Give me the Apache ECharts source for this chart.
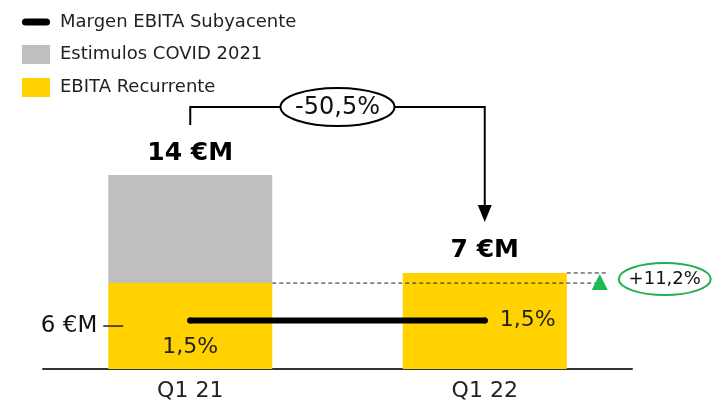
<!DOCTYPE html>
<html><head><meta charset="utf-8">
<script src="https://cdn.jsdelivr.net/npm/echarts@6/dist/echarts.min.js"></script>
<style>html,body{margin:0;padding:0;background:#fff}#c{width:712px;height:408px}</style>
</head><body><div id="c"></div>
<script>
const categories = ['Q1 21', 'Q1 22'];
const recurrente = [6.2, 6.93];
const covid = [7.8, 0];
const totals = [14, 6.93];
const totalLabels = ['14 €M', '7 €M'];
const margen = [1.5, 1.5];
const margenLabels = ['1,5%', '1,5%'];
const recurrenteTick = '6 €M';
const changeTotal = '-50,5%';
const changeRecurrente = '+11,2%';
const seriesNames = ['Margen EBITA Subyacente', 'Estimulos COVID 2021', 'EBITA Recurrente'];

const FONT = 'DejaVu Sans';
const BARW = 164;
const chart = echarts.init(document.getElementById('c'), null, {renderer: 'canvas'});
const option = {
  animation: false,
  textStyle: {fontFamily: FONT},
  legend: {
    orient: 'vertical', left: 17, top: 8, itemWidth: 28, itemHeight: 19, itemGap: 14,
    data: [
      {name: seriesNames[0], icon: 'path://M3.5,0 L24.5,0 A3.5,3.5 0 0 1 24.5,7 L3.5,7 A3.5,3.5 0 0 1 3.5,0 Z', itemStyle: {color: '#000'}},
      {name: seriesNames[1], icon: 'rect'},
      {name: seriesNames[2], icon: 'rect'}
    ],
    textStyle: {fontSize: 18, color: '#222', fontFamily: FONT, padding: [0, 0, 0, 5]}
  },
  grid: {left: 43, right: 80, top: 175, bottom: 39},
  xAxis: {
    type: 'category', data: categories,
    axisLine: {lineStyle: {color: '#333', width: 2}},
    axisTick: {show: false},
    axisLabel: {fontSize: 22, color: '#222', margin: 11, fontFamily: FONT}
  },
  yAxis: [
    {type: 'value', min: 0, max: 14, show: false, splitLine: {show: false}},
    {type: 'value', min: 0, max: 6, show: false, splitLine: {show: false}}
  ],
  series: [
    {
      name: seriesNames[2], type: 'bar', stack: 't', data: recurrente, barWidth: BARW,
      itemStyle: {color: '#FFD200'}
    },
    {
      name: seriesNames[1], type: 'bar', stack: 't', data: covid, barWidth: BARW,
      itemStyle: {color: '#BFBFBF'}
    },
    {
      name: 'totals', type: 'scatter', data: totals, symbolSize: 1,
      itemStyle: {color: 'rgba(0,0,0,0)', opacity: 1}, silent: true,
      label: {show: true, position: 'top', distance: 9, fontSize: 25, fontWeight: 'bold', color: '#000', fontFamily: FONT,
        formatter: p => totalLabels[p.dataIndex]}
    },
    {
      name: seriesNames[0], type: 'line', yAxisIndex: 1,
      symbol: 'circle', symbolSize: 6, showSymbol: true,
      itemStyle: {color: '#000'},
      lineStyle: {color: '#000', width: 6, cap: 'round'},
      label: {show: true, fontSize: 22, color: '#222', fontFamily: FONT,
        formatter: p => margenLabels[p.dataIndex]},
      data: [
        {value: margen[0], label: {position: 'bottom', distance: 13}},
        {value: margen[1], label: {position: 'right', distance: 12}}
      ]
    }
  ]
};
chart.setOption(option);

function px(i, v, axis) { return chart.convertToPixel({xAxisIndex: 0, yAxisIndex: axis || 0}, [i, v]); }
const p0 = px(0, recurrente[0] + covid[0]);
const p1 = px(1, recurrente[1] + covid[1]);
const r0 = px(0, recurrente[0]);
const r1 = px(1, recurrente[1]);
const hw = BARW / 2;
const yTop = p0[1] - 68;
const midX = (p0[0] + p1[0]) / 2;
const tipY = p1[1] - 51;
const tickY = (r0[1] + px(0, 0)[1]) / 2;
const triX = r1[0] + hw + 33;
const ellX = r1[0] + hw + 98;
const graphics = [
  {type: 'polyline', z: 100, shape: {points: [[p0[0], yTop + 18], [p0[0], yTop], [p1[0], yTop], [p1[0], tipY - 16]]}, style: {stroke: '#000', lineWidth: 2, fill: null}},
  {type: 'polygon', z: 100, shape: {points: [[p1[0] - 7, tipY - 17], [p1[0] + 7, tipY - 17], [p1[0], tipY]]}, style: {fill: '#000'}},
  {type: 'ellipse', z: 100, shape: {cx: midX, cy: yTop, rx: 57, ry: 19}, style: {fill: '#fff', stroke: '#000', lineWidth: 2}},
  {type: 'text', z: 101, x: midX, y: yTop + 1, style: {text: changeTotal, fontSize: 24, fontFamily: FONT, fill: '#111', align: 'center', verticalAlign: 'middle'}},
  {type: 'line', z: 100, shape: {x1: r0[0] - hw - 5, y1: tickY, x2: r0[0] - hw + 15, y2: tickY}, style: {stroke: '#222', lineWidth: 1.5}},
  {type: 'text', z: 100, x: r0[0] - hw - 11, y: tickY, style: {text: recurrenteTick, fontSize: 23, fontFamily: FONT, fill: '#111', align: 'right', verticalAlign: 'middle'}},
  {type: 'line', z: 100, shape: {x1: r0[0] + hw, y1: r0[1], x2: triX + 2, y2: r0[1]}, style: {stroke: '#222', lineWidth: 1, lineDash: [4, 3]}},
  {type: 'line', z: 100, shape: {x1: r1[0] + hw, y1: r1[1], x2: triX + 8, y2: r1[1]}, style: {stroke: '#222', lineWidth: 1, lineDash: [4, 3]}},
  {type: 'polygon', z: 100, shape: {points: [[triX - 8, r0[1] + 7], [triX + 8, r0[1] + 7], [triX, r1[1] + 1]]}, style: {fill: '#1DB954'}},
  {type: 'ellipse', z: 100, shape: {cx: ellX, cy: (r0[1] + r1[1]) / 2 + 1, rx: 46, ry: 16}, style: {fill: '#fff', stroke: '#22B14C', lineWidth: 2}},
  {type: 'text', z: 101, x: ellX, y: (r0[1] + r1[1]) / 2 + 1, style: {text: changeRecurrente, fontSize: 18, fontFamily: FONT, fill: '#111', align: 'center', verticalAlign: 'middle'}}
];
chart.setOption({graphic: graphics});
</script></body></html>
